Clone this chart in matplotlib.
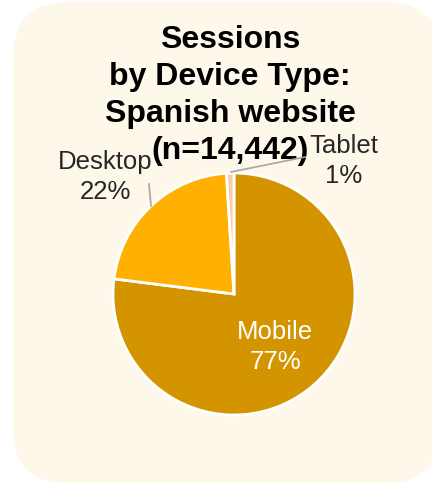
import matplotlib
matplotlib.use("Agg")
import matplotlib.pyplot as plt
from matplotlib.patches import FancyBboxPatch

plt.rcParams['font.family'] = ['Liberation Sans', 'DejaVu Sans']

# Data
devices = ["Mobile", "Desktop", "Tablet"]
shares = [77, 22, 1]
colors = ["#D39400", "#FFB000", "#F9CFA3"]
title = "Sessions\nby Device Type:\nSpanish website\n(n=14,442)"

W, H = 432, 485
fig = plt.figure(figsize=(W / 100, H / 100), dpi=100)
fig.patch.set_facecolor("white")
ax = fig.add_axes([0, 0, 1, 1])

# Rounded cream card behind the chart
card = FancyBboxPatch((13, 1), 427, 481,
                      boxstyle="round,pad=0,rounding_size=55",
                      facecolor="#FEF8EB", edgecolor="none", zorder=0)
ax.add_patch(card)

cx, cy, r = 234, H - 295, 121
wedges, _ = ax.pie(shares, colors=colors, startangle=90, counterclock=False,
                   center=(cx, cy), radius=r,
                   wedgeprops=dict(edgecolor="white", linewidth=2))
for w in wedges:
    w.set_zorder(2)

ax.set_xlim(0, W)
ax.set_ylim(0, H)
ax.set_aspect("auto")
ax.axis("off")

ax.text(230, H - 159, title, ha="center", va="baseline", fontsize=23,
        fontweight="bold", color="black", linespacing=1.3, zorder=3)

pct = [f"{v}%" for v in shares]
lab_fs = 18.5

# Mobile label inside the slice
ax.text(275, H - 347, f"{devices[0]}\n{pct[0]}", ha="center", va="center",
        fontsize=lab_fs, color="white", linespacing=1.3, zorder=3)

# Desktop label with leader line
ax.text(105, H - 177, f"{devices[1]}\n{pct[1]}", ha="center", va="center",
        fontsize=lab_fs, color="#262626", linespacing=1.3, zorder=3)
ax.plot([149, 151], [H - 185, H - 207], color="#A6A6A6", lw=1.2, zorder=3)

# Tablet label with leader line
ax.text(344, H - 161, f"{devices[2]}\n{pct[2]}", ha="center", va="center",
        fontsize=lab_fs, color="#262626", linespacing=1.3, zorder=3)
ax.plot([231, 305], [H - 173, H - 158], color="#A6A6A6", lw=1.2, zorder=3)

fig.savefig("out.png", dpi=100)
